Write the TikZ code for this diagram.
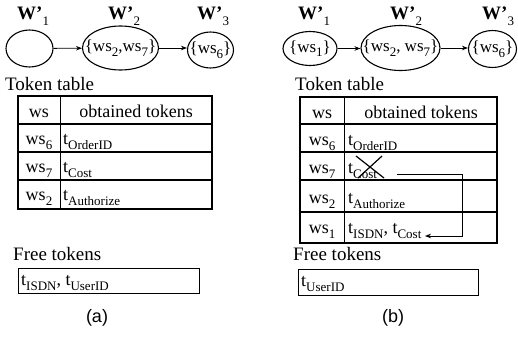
\documentclass[tikz,border=0pt]{standalone}
\usepackage{fontspec}
\setmainfont{Liberation Serif}
\newfontfamily\capfont{Liberation Sans}
\usetikzlibrary{shapes.geometric,arrows.meta,calc}
\newcommand\sbx[1]{\raisebox{-0.28em}{\fontsize{13}{13}\selectfont #1}}
\begin{document}
\begin{tikzpicture}[x=1pt,y=-1pt,
  every node/.style={font=\fontsize{18}{20}\selectfont, inner sep=0pt},
  state/.style={draw, ellipse, line width=1.1pt, inner sep=0pt},
  stext/.style={font=\fontsize{17}{19}\selectfont},
  lbl/.style={anchor=base west, font=\fontsize{19}{21}\selectfont},
  outer/.style={line width=1.6pt},
  hline/.style={line width=1.1pt},
  vline/.style={line width=0.8pt},
  box/.style={line width=0.9pt},
  arr/.style={-{Stealth[length=6pt,width=4.5pt]}, line width=0.8pt},
  cell/.style={anchor=base west},
  wscell/.style={anchor=base},
  subcap/.style={anchor=base, font=\capfont\fontsize{18}{20}\selectfont},
]
\fill[white] (0,0) rectangle (518,337);
\useasboundingbox (0,0) rectangle (518,337);

% ---------------- (a) ----------------
\node[state, minimum width=47pt, minimum height=37pt] (a1) at (29.5,48.5) {};
\node[state, minimum width=76pt, minimum height=44pt] (a2) at (120.5,48) {};
\node[state, minimum width=46pt, minimum height=36pt] (a3) at (210.5,50) {};
\node[stext] (a2t) at (a2.center) {\{ws\sbx{2},ws\sbx{7}\}};
\node[stext] (a3t) at (a3.center) {\{ws\sbx{6}\}};
\draw[arr] (a1) -- (a2);
\draw[arr] (a2) -- (a2 -| a3.west);
\node[lbl] (la1) at (17,20) {\textbf{W’}\sbx{1}};
\node[lbl] (la2) at (108,20) {\textbf{W’}\sbx{2}};
\node[lbl] (la3) at (197,20) {\textbf{W’}\sbx{3}};

\node[lbl] (tta) at (5,90) {Token table};
\draw[outer] (18,96) rectangle (212,209);
\draw[vline] (60,96) -- (60,209);
\draw[hline] (18,124) -- (212,124);
\draw[hline] (18,152) -- (212,152);
\draw[hline] (18,180) -- (212,180);
\node[wscell] (ha1) at (39,117) {ws};
\node[wscell] (ha2) at (136,117) {obtained tokens};
\node[wscell] (wa6) at (39,144) {ws\sbx{6}};
\node[cell] (ta6) at (63,144) {t\sbx{OrderID}};
\node[wscell] (wa7) at (39,172) {ws\sbx{7}};
\node[cell] (ta7) at (63,172) {t\sbx{Cost}};
\node[wscell] (wa2) at (39,200) {ws\sbx{2}};
\node[cell] (ta2) at (63,200) {t\sbx{Authorize}};

\node[lbl] (fta) at (13,260) {Free tokens};
\draw[box] (18,268) rectangle (199,293);
\node[cell] (fa) at (21,285) {t\sbx{ISDN}, t\sbx{UserID}};
\node[subcap] (capa) at (97,322) {(a)};

% ---------------- (b) ----------------
\node[state, minimum width=54pt, minimum height=34pt] (b1) at (310,48.5) {};
\node[state, minimum width=79pt, minimum height=45pt] (b2) at (400.5,48) {};
\node[state, minimum width=48pt, minimum height=37pt] (b3) at (492.5,49) {};
\node[stext] (b1t) at (b1.center) {\{ws\sbx{1}\}};
\node[stext] (b2t) at (b2.center) {\{ws\sbx{2}, ws\sbx{7}\}};
\node[stext] (b3t) at (b3.center) {\{ws\sbx{6}\}};
\draw[arr] (b1) -- (b1 -| b2.west);
\draw[arr] (b2) -- (b2 -| b3.west);
\node[lbl] (lb1) at (298,20) {\textbf{W’}\sbx{1}};
\node[lbl] (lb2) at (390,20) {\textbf{W’}\sbx{2}};
\node[lbl] (lb3) at (482,20) {\textbf{W’}\sbx{3}};

\node[lbl] (ttb) at (295,90) {Token table};
\draw[outer] (300,97) rectangle (497,243);
\draw[vline] (344,97) -- (344,243);
\draw[hline] (300,124) -- (497,124);
\draw[hline] (300,152) -- (497,152);
\draw[hline] (300,180) -- (497,180);
\draw[hline] (300,212) -- (497,212);
\node[wscell] (hb1) at (322,118) {ws};
\node[wscell] (hb2) at (421,118) {obtained tokens};
\node[wscell] (wb6) at (322,145) {ws\sbx{6}};
\node[cell] (tb6) at (348,145) {t\sbx{OrderID}};
\node[wscell] (wb7) at (322,173) {ws\sbx{7}};
\node[cell] (tb7) at (348,173) {t\sbx{Cost}};
\node[wscell] (wb2) at (322,203) {ws\sbx{2}};
\node[cell] (tb2) at (348,203) {t\sbx{Authorize}};
\node[wscell] (wb1) at (322,233) {ws\sbx{1}};
\node[cell] (tb1) at (348,233) {t\sbx{ISDN}, t\sbx{Cost}};
% cross over t_Cost
\draw[line width=1.2pt] (356,156) -- (384,178);
\draw[line width=1.2pt] (382,156) -- (358,178);
% move arrow
\coordinate (ms) at (397,174);
\coordinate (mc) at (462,236);
\coordinate (me) at (425,236);
\draw[arr] (ms) -| (mc) -- (me);

\node[lbl] (ftb) at (293,260) {Free tokens};
\draw[box] (298,269) rectangle (478,295);
\node[cell] (fb) at (301,286) {t\sbx{UserID}};
\node[subcap] (capb) at (393,322) {(b)};
\end{tikzpicture}
\end{document}
